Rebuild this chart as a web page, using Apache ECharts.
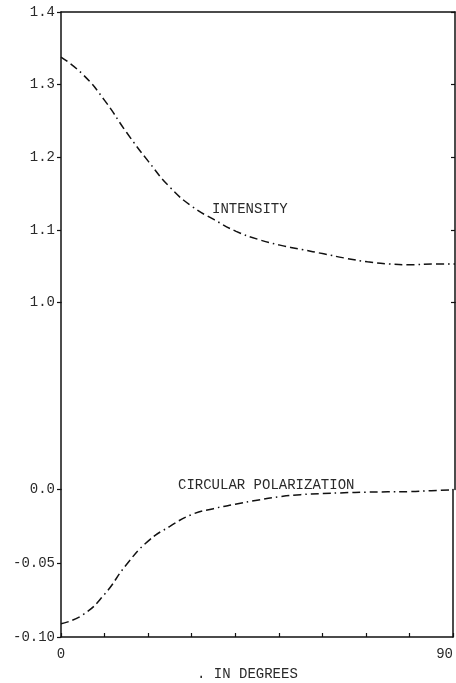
<!DOCTYPE html>
<html>
<head>
<meta charset="utf-8">
<script src="https://cdn.jsdelivr.net/npm/echarts@6/dist/echarts.min.js"></script>
<style>
  html, body { margin: 0; padding: 0; background: #fff; }
  #chart { width: 456px; height: 683px; }
</style>
</head>
<body>
<div id="chart"></div>
<script>
// Angle in degrees (x values)
const angles = [0, 5, 10, 15, 20, 25, 30, 35, 40, 45, 50, 55, 60, 65, 70, 75, 80, 85, 90];
// Intensity (top panel)
const intensity = [1.338, 1.314, 1.278, 1.234, 1.194, 1.158, 1.132, 1.114, 1.098, 1.087,
                   1.079, 1.073, 1.067, 1.061, 1.056, 1.053, 1.052, 1.053, 1.053];
// Circular polarization (bottom panel)
const polarization = [-0.091, -0.085, -0.071, -0.051, -0.035, -0.025, -0.017, -0.013, -0.010, -0.0073,
                      -0.005, -0.0035, -0.0028, -0.0022, -0.0018, -0.0016, -0.0014, -0.0008, -0.0002];
// Tick settings
const topTicks = { min: 1.0, max: 1.4, interval: 0.1 };
const bottomTicks = { min: -0.10, max: 0.0, interval: 0.05 };
const xTicks = { min: 0, max: 90, interval: 10 };
const xLabelsShown = [0, 90];

const FONT = '"Liberation Mono", "DejaVu Sans Mono", monospace';
const INK = '#111';
const TXT = '#2a2a2a';
const dashDot = [8, 4, 8, 4, 1.5, 4];

const chart = echarts.init(document.getElementById('chart'), null, { renderer: 'canvas' });

const lineAxis = { show: true, lineStyle: { color: INK, width: 1.5 } };

function yLabelFmt(decimals) {
  return function (v) {
    const n = Math.abs(v) < 1e-9 ? 0 : v;
    return n.toFixed(decimals);
  };
}

const option = {
  backgroundColor: '#fff',
  animation: false,
  grid: [
    { left: 61, right: 1, top: 12, height: 290.5 },
    { left: 61, right: 1, top: 302.5, height: 187 },
    { left: 61, right: 1, top: 489.5, height: 147.5 }
  ],
  xAxis: [
    { gridIndex: 0, type: 'value', position: 'top', min: xTicks.min, max: xTicks.max, interval: xTicks.interval,
      axisLine: lineAxis, axisTick: { show: false }, axisLabel: { show: false }, splitLine: { show: false } },
    { gridIndex: 1, type: 'value', show: false, min: xTicks.min, max: xTicks.max },
    { gridIndex: 2, type: 'value', position: 'bottom', min: xTicks.min, max: xTicks.max, interval: xTicks.interval,
      axisLine: { onZero: false, show: true, lineStyle: { color: INK, width: 1.5 } },
      axisTick: { show: true, inside: true, length: 4, lineStyle: { color: INK, width: 1.2 } },
      axisLabel: { show: true, margin: 10, fontFamily: FONT, fontSize: 14, color: TXT, alignMaxLabel: 'right',
        formatter: function (v) { return xLabelsShown.indexOf(v) >= 0 ? String(v) : ''; } },
      splitLine: { show: false } }
  ],
  yAxis: [
    { gridIndex: 0, type: 'value', position: 'left', min: topTicks.min, max: topTicks.max, interval: topTicks.interval,
      axisLine: lineAxis,
      axisTick: { show: true, inside: false, length: 4, lineStyle: { color: INK, width: 1.2 } },
      axisLabel: { margin: 6, fontFamily: FONT, fontSize: 14, color: TXT, formatter: yLabelFmt(1) },
      splitLine: { show: false } },
    { gridIndex: 0, type: 'value', position: 'right', min: topTicks.min, max: topTicks.max, interval: topTicks.interval,
      axisLine: lineAxis,
      axisTick: { show: true, inside: true, length: 4, lineStyle: { color: INK, width: 1.2 } },
      axisLabel: { show: false }, splitLine: { show: false } },
    { gridIndex: 1, type: 'value', position: 'left', min: 0, max: 1,
      axisLine: lineAxis, axisTick: { show: false }, axisLabel: { show: false }, splitLine: { show: false } },
    { gridIndex: 1, type: 'value', position: 'right', min: 0, max: 1,
      axisLine: lineAxis, axisTick: { show: false }, axisLabel: { show: false }, splitLine: { show: false } },
    { gridIndex: 2, type: 'value', position: 'left', min: bottomTicks.min, max: bottomTicks.max, interval: bottomTicks.interval,
      axisLine: { onZero: false, show: true, lineStyle: { color: INK, width: 1.5 } },
      axisTick: { show: true, inside: false, length: 4, lineStyle: { color: INK, width: 1.2 } },
      axisLabel: { margin: 6, fontFamily: FONT, fontSize: 14, color: TXT,
        formatter: function (v) {
          if (Math.abs(v) < 1e-9) return '0.0';
          return v.toFixed(2);
        } },
      splitLine: { show: false } },
    { gridIndex: 2, type: 'value', position: 'right', min: bottomTicks.min, max: bottomTicks.max, interval: bottomTicks.interval,
      axisLine: { onZero: false, show: true, lineStyle: { color: INK, width: 1.5 } },
      axisTick: { show: false }, axisLabel: { show: false }, splitLine: { show: false } }
  ],
  series: [
    { name: 'INTENSITY', type: 'line', xAxisIndex: 0, yAxisIndex: 0, smooth: 0.5, showSymbol: false,
      data: angles.map((a, i) => [a, intensity[i]]),
      lineStyle: { color: INK, width: 1.5, type: dashDot } },
    { name: 'CIRCULAR POLARIZATION', type: 'line', xAxisIndex: 2, yAxisIndex: 4, smooth: 0.5, showSymbol: false,
      data: angles.map((a, i) => [a, polarization[i]]),
      lineStyle: { color: INK, width: 1.5, type: dashDot } }
  ],
  graphic: [
    { type: 'text', left: 212, top: 202,
      style: { text: 'INTENSITY', font: '14px ' + FONT, fill: TXT } },
    { type: 'text', left: 178, top: 478,
      style: { text: 'CIRCULAR POLARIZATION', font: '14px ' + FONT, fill: TXT } },
    { type: 'text', left: 197, top: 667,
      style: { text: '. IN DEGREES', font: '14px ' + FONT, fill: TXT } }
  ]
};

chart.setOption(option);
</script>
</body>
</html>
